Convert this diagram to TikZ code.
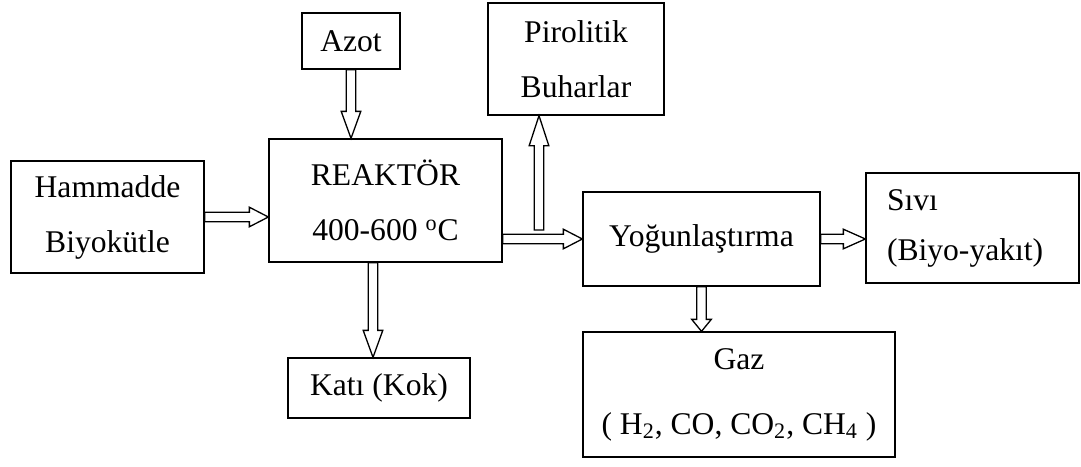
\documentclass[tikz,border=0pt]{standalone}
\usepackage{fontspec}
\setmainfont{Liberation Serif}
\usepackage{tikz}
\usetikzlibrary{positioning, calc}

\tikzstyle{kutu}=[%
      rectangle, draw=black, line width=0.65pt, fill=none,
      inner sep=0pt, align=center, font=\fontsize{15.8}{27.5}\selectfont
]
\tikzset{okbasi/.store in=\okbasi, okbasi=9.5pt}
\tikzstyle{blok}=[%
      draw=black, line width=0.65pt, fill=white, line join=miter,
      to path={let \p1=(\tikztostart), \p2=(\tikztotarget),
        \n1={veclen(\x2-\x1,\y2-\y1)}, \n2={(\x2-\x1)/\n1}, \n3={(\y2-\y1)/\n1} in
        ({\x1-2.4pt*\n3},{\y1+2.4pt*\n2})
        -- ({\x2-\okbasi*\n2-2.4pt*\n3},{\y2-\okbasi*\n3+2.4pt*\n2})
        -- ({\x2-\okbasi*\n2-4.9pt*\n3},{\y2-\okbasi*\n3+4.9pt*\n2})
        -- (\p2)
        -- ({\x2-\okbasi*\n2+4.9pt*\n3},{\y2-\okbasi*\n3-4.9pt*\n2})
        -- ({\x2-\okbasi*\n2+2.4pt*\n3},{\y2-\okbasi*\n3-2.4pt*\n2})
        -- ({\x1+2.4pt*\n3},{\y1-2.4pt*\n2}) -- cycle}
]

\begin{document}
\begin{tikzpicture}[x=0.5pt, y=-0.5pt]
    \useasboundingbox (0,0) rectangle (1081,466);

    \node[kutu, minimum width=96.5pt, minimum height=56pt]  (ham)   at (107.5,217) {Hammadde\\Biyokütle};
    \node[kutu, minimum width=49pt, minimum height=28pt]    (azot)  at (351,41)    {Azot};
    \node[kutu, minimum width=116.5pt, minimum height=61.5pt] (reak) at (385.5,200.5) {REAKTÖR\\400-600 \textsuperscript{o}C};
    \node[kutu, minimum width=88pt, minimum height=56pt]    (pir)   at (576,59)    {Pirolitik\\Buharlar};
    \node[kutu, minimum width=118.5pt, minimum height=47pt] (yog)   at (701.5,239) {Yoğunlaştırma};
    \node[kutu, minimum width=106.5pt, minimum height=55pt, align=left,
          text width=85.5pt, inner xsep=10.5pt]             (sivi)  at (972.5,228) {Sıvı\\[-2.5pt](Biyo-yakıt)};
    \node[kutu, minimum width=91pt, minimum height=30pt]    (kati)  at (379,388)   {Katı (Kok)};
    \node[kutu, minimum width=156pt, minimum height=62.5pt] (gaz)   at (739,394.5) {Gaz\\[5pt]( H\textsubscript{2}, CO, CO\textsubscript{2}, CH\textsubscript{4} )};

    \coordinate (ayr) at (539,230);

    \draw[blok] (ham.east) to (ham.east -| reak.west);
    \draw[blok, okbasi=13.5pt] (azot.south) to (azot.south |- reak.north);
    \draw[blok, okbasi=13.5pt] ([xshift=-6.25pt]reak.south) to ([xshift=-6.25pt]reak.south |- kati.north);
    \draw[blok, okbasi=15pt] (ayr) to (ayr |- pir.south);
    \draw[blok] (yog.west -| reak.east) to (yog.west);
    \draw[blok, okbasi=6pt] (yog.south) to (yog.south |- gaz.north);
    \draw[blok, okbasi=11pt] (yog.east) to (yog.east -| sivi.west);
\end{tikzpicture}
\end{document}
